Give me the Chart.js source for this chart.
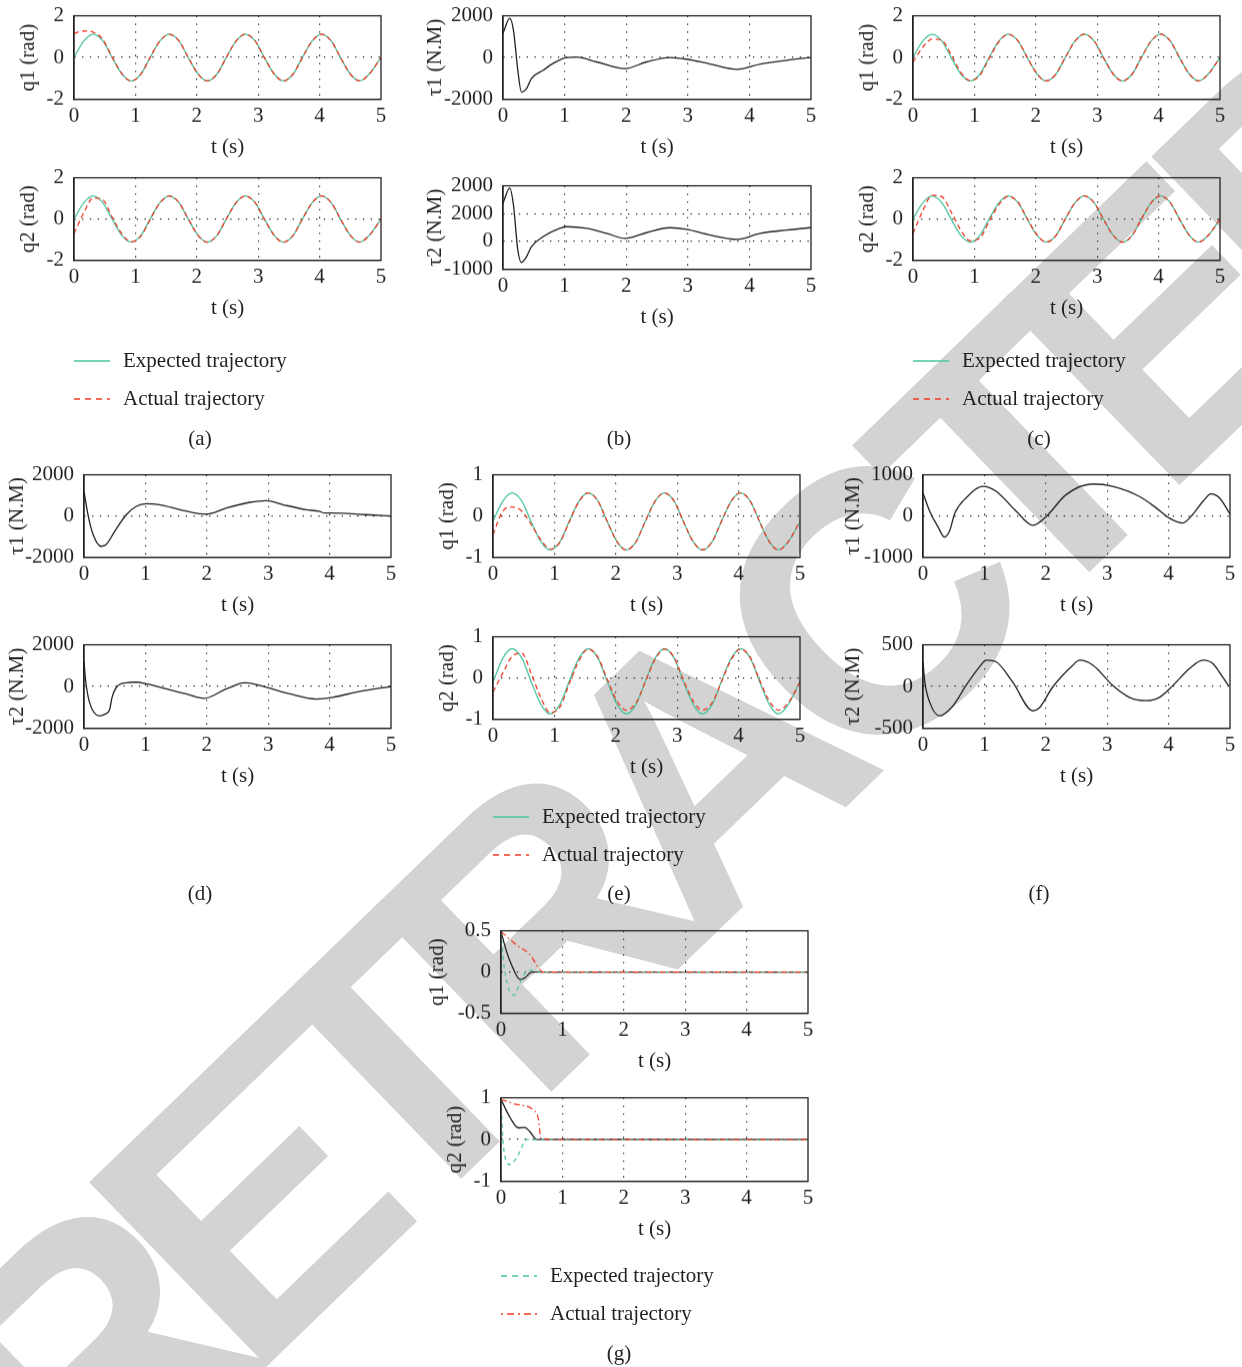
<!DOCTYPE html>
<html>
<head>
<meta charset="utf-8">
<script src="https://cdn.jsdelivr.net/npm/chart.js@4/dist/chart.umd.min.js"></script>
<style>
  body { margin: 0; width: 1242px; height: 1367px; position: relative; overflow: hidden; background: #fff;
         font-family: "Liberation Serif", serif; color: #231f20; }
  canvas { position: absolute; }
  .txt { position: absolute; font-size: 21px; line-height: 21px; white-space: nowrap; transform: translateY(-50%); }
  .cap { position: absolute; font-size: 21px; line-height: 21px; white-space: nowrap; transform: translate(-50%, -50%); }
  .sw { position: absolute; transform: translateY(-50%); }
</style>
</head>
<body>
<canvas id="mark" width="1242" height="1367" style="left:0;top:0"></canvas>
<div id="root"></div>
<script>
// ---- data ----
const xTicks = [0, 1, 2, 3, 4, 5]

const tWave = [0, 0.16, 0.31, 0.47, 0.62, 0.78, 0.93, 1.09, 1.24, 1.40, 1.55, 1.71, 1.86, 2.02, 2.17, 2.33,
  2.48, 2.64, 2.79, 2.95, 3.10, 3.26, 3.41, 3.57, 3.72, 3.88, 4.03, 4.19, 4.34, 4.50, 4.65, 4.81, 5.0]

// (a)
const aQ1Exp = [0, 0.79, 1.12, 0.79, 0, -0.79, -1.12, -0.79, 0, 0.79, 1.12, 0.79, 0, -0.79, -1.12, -0.79,
  0, 0.79, 1.12, 0.79, 0, -0.79, -1.12, -0.79, 0, 0.79, 1.12, 0.79, 0, -0.79, -1.12, -0.79, 0]
const aQ1Act = [1.15, 1.27, 1.22, 0.86, 0.03, -0.77, -1.12, -0.8, 0.01, 0.79, 1.11, 0.8, 0.01, -0.79, -1.12, -0.79,
  0, 0.79, 1.12, 0.79, 0, -0.79, -1.12, -0.79, 0, 0.79, 1.12, 0.79, 0, -0.79, -1.12, -0.79, 0]
const aQ2Exp = [0, 0.79, 1.12, 0.79, 0, -0.79, -1.12, -0.79, 0, 0.79, 1.12, 0.79, 0, -0.79, -1.12, -0.79,
  0, 0.79, 1.12, 0.79, 0, -0.79, -1.12, -0.79, 0, 0.79, 1.12, 0.79, 0, -0.79, -1.12, -0.79, 0]
const aQ2Act = [-0.7, 0.3, 1.02, 0.93, 0.1, -0.72, -1.1, -0.83, -0.03, 0.78, 1.12, 0.8, 0.01, -0.79, -1.12, -0.79,
  0, 0.79, 1.12, 0.79, 0, -0.79, -1.12, -0.79, 0, 0.79, 1.12, 0.79, 0, -0.79, -1.12, -0.79, 0]

// (b)
const bT1t = [0, 0.11, 0.17, 0.24, 0.3, 0.38, 0.46, 0.65, 0.81, 1.03, 1.19, 1.52, 1.98, 2.33, 2.71, 2.98, 3.36, 3.8, 4.18, 4.61, 5.0]
const bT1v = [1160, 1880, 1300, -600, -1660, -1500, -1015, -613, -290, 0, 20, -212, -531, -212, 0, -80, -310, -565, -310, -130, 0]
const bT2t = [0, 0.11, 0.17, 0.24, 0.3, 0.38, 0.46, 0.65, 0.92, 1.03, 1.36, 1.68, 1.98, 2.33, 2.71, 2.98, 3.36, 3.8, 4.18, 4.61, 5.0]
const bT2v = [1375, 1917, 1300, -300, -757, -555, -194, 167, 469, 531, 470, 290, 108, 314, 495, 435, 230, 75, 290, 410, 495]

// (c)
const cQ1Exp = aQ1Exp
const cQ1Act = [-0.22, 0.5, 0.88, 0.82, 0.15, -0.72, -1.1, -0.85, -0.05, 0.76, 1.11, 0.8, 0.01, -0.79, -1.12, -0.79,
  0, 0.79, 1.12, 0.79, 0, -0.79, -1.12, -0.79, 0, 0.79, 1.12, 0.79, 0, -0.79, -1.12, -0.79, 0]
const cQ2Exp = aQ2Exp
const cQ2Act = [-0.7, 0.4, 1.15, 1.08, 0.35, -0.55, -1.05, -0.92, -0.12, 0.7, 1.1, 0.82, 0.02, -0.77, -1.12, -0.8,
  0, 0.79, 1.12, 0.79, 0, -0.79, -1.12, -0.79, 0, 0.79, 1.12, 0.79, 0, -0.79, -1.12, -0.79, 0]

// (d)
const dT1t = [0, 0.065, 0.15, 0.28, 0.36, 0.5, 0.69, 0.85, 1.01, 1.23, 1.56, 1.88, 2.02, 2.32, 2.7, 2.97, 3.24, 3.62, 3.83, 3.92, 4.05, 4.59, 5.0]
const dT1v = [1200, 65, -906, -1470, -1390, -745, 65, 470, 600, 550, 307, 113, 100, 390, 663, 745, 550, 307, 226, 145, 145, 65, 0]
const dT2t = [0, 0.03, 0.09, 0.25, 0.34, 0.42, 0.45, 0.53, 0.69, 0.85, 1.01, 1.34, 1.66, 1.96, 2.32, 2.62, 2.97, 3.35, 3.78, 4.05, 4.48, 5.0]
const dT2v = [1180, 210, -760, -1408, -1327, -1084, -600, -32, 178, 210, 130, -113, -356, -566, -113, 178, -32, -356, -600, -518, -243, 0]

// (e)
const eQ1Exp = [-0.12, 0.36, 0.56, 0.36, -0.13, -0.62, -0.82, -0.62, -0.13, 0.36, 0.56, 0.36, -0.13, -0.62, -0.82, -0.62,
  -0.13, 0.36, 0.56, 0.36, -0.13, -0.62, -0.82, -0.62, -0.13, 0.36, 0.56, 0.36, -0.13, -0.62, -0.82, -0.62, -0.15]
const eQ1Act = [-0.45, 0.12, 0.22, 0.12, -0.2, -0.58, -0.8, -0.64, -0.15, 0.35, 0.56, 0.36, -0.13, -0.62, -0.82, -0.62,
  -0.13, 0.36, 0.56, 0.36, -0.13, -0.62, -0.82, -0.62, -0.13, 0.36, 0.56, 0.36, -0.13, -0.62, -0.82, -0.62, -0.12]
const eQ2Exp = [-0.1, 0.48, 0.71, 0.48, -0.08, -0.64, -0.87, -0.64, -0.08, 0.48, 0.71, 0.48, -0.08, -0.64, -0.87, -0.64,
  -0.08, 0.48, 0.71, 0.48, -0.08, -0.64, -0.87, -0.64, -0.08, 0.48, 0.71, 0.48, -0.08, -0.64, -0.87, -0.64, -0.08]
const eQ2Act = [-0.34, 0.12, 0.52, 0.6, 0.12, -0.48, -0.84, -0.7, -0.15, 0.42, 0.7, 0.5, -0.03, -0.56, -0.78, -0.6,
  -0.1, 0.45, 0.7, 0.5, -0.04, -0.56, -0.78, -0.6, -0.1, 0.45, 0.7, 0.5, -0.04, -0.56, -0.78, -0.6, -0.1]

// (f)
const fT1t = [0, 0.11, 0.24, 0.35, 0.43, 0.52, 0.7, 0.98, 1.19, 1.52, 1.79, 2.01, 2.33, 2.77, 3.09, 3.52, 3.8, 4.01, 4.23, 4.39, 4.56, 4.69, 4.83, 5.0]
const fT1v = [560, 113, -251, -510, -372, 73, 437, 720, 600, 113, -227, -8, 518, 777, 720, 478, 194, -49, -170, 32, 356, 534, 437, 50]
const fT2t = [0, 0.03, 0.11, 0.27, 0.49, 0.7, 0.92, 1.03, 1.19, 1.46, 1.79, 1.9, 2.11, 2.44, 2.55, 2.77, 3.09, 3.36, 3.63, 3.85, 4.07, 4.34, 4.56, 4.72, 4.88, 4.98]
const fT2v = [296, 53, -190, -352, -231, 12, 235, 316, 296, 53, -291, -251, -8, 255, 316, 255, 12, -130, -170, -130, 12, 215, 316, 275, 113, 4]

// (g)
const gQ1ErrT = [0, 0.09, 0.17, 0.31, 0.39, 0.5, 0.7, 5]
const gQ1ErrV = [0.49, 0.25, 0.09, -0.09, -0.07, 0, 0, 0]
const gQ1ExpT = [0, 0.04, 0.12, 0.21, 0.31, 0.42, 0.5, 0.7, 5]
const gQ1ExpV = [0.49, 0.13, -0.19, -0.28, -0.13, 0.01, 0.02, 0, 0]
const gQ1ActT = [0, 0.25, 0.47, 0.63, 0.69, 1, 5]
const gQ1ActV = [0.49, 0.33, 0.21, 0.03, 0, 0, 0]
const gQ2ErrT = [0, 0.15, 0.28, 0.39, 0.47, 0.58, 1, 5]
const gQ2ErrV = [0.96, 0.52, 0.28, 0.29, 0.19, 0, 0, 0]
const gQ2ExpT = [0, 0.03, 0.07, 0.15, 0.28, 0.42, 1, 5]
const gQ2ExpV = [0.96, 0.03, -0.45, -0.6, -0.37, 0, 0, 0]
const gQ2ActT = [0, 0.25, 0.55, 0.61, 0.65, 1, 5]
const gQ2ActV = [0.96, 0.84, 0.68, 0.48, 0.03, 0, 0]

// y tick values / labels
const yT2 = [-2, 0, 2], yL2 = ['-2', '0', '2']
const yT1 = [-1, 0, 1], yL1 = ['-1', '0', '1']
const yTh = [-0.5, 0, 0.5], yLh = ['-0.5', '0', '0.5']
const yT2k = [-2000, 0, 2000], yL2k = ['-2000', '0', '2000']
const yT1k = [-1000, 0, 1000], yL1k = ['-1000', '0', '1000']
const yT5h = [-500, 0, 500], yL5h = ['-500', '0', '500']
const yTb2 = [-1000, 0, 1000, 2000], yLb2 = ['-1000', '0', '2000', '2000']

// ---- styles ----
const GREEN = '#4cc4a0', RED = '#f03a22', INK = '#231f20'
const DASH = [5, 3.5], DASHDOT = [6, 3, 1.5, 3], GDASH = [4, 4]
const FONT = { family: '"Liberation Serif", serif', size: 21 }
const L = 84, T = 12, R = 16, B = 62

const frame = {
  id: 'frame',
  afterDatasetsDraw(ch) {
    const a = ch.chartArea, c = ch.ctx
    c.save()
    c.strokeStyle = INK
    c.lineWidth = 1.3
    c.strokeRect(a.left, a.top, a.right - a.left, a.bottom - a.top)
    c.restore()
  }
}

function inner(ctx, lo, hi) {
  const v = ctx.tick && ctx.tick.value
  return (v === lo || v === hi) ? 'rgba(0,0,0,0)' : INK
}

function panel(p) {
  const W = L + p.w + R, H = T + p.h + B
  const cv = document.createElement('canvas')
  cv.width = W
  cv.height = H
  document.getElementById('root').appendChild(cv)

  const ch = new Chart(cv.getContext('2d'), {
    type: 'line',
    data: {
      // later series sit on top, as in the figure
      datasets: p.series.map((s, i) => ({
        data: s.t.map((t, k) => ({ x: t, y: s.v[k] })),
        borderColor: s.color,
        borderWidth: 1.3,
        borderDash: s.dash || [],
        pointRadius: 0,
        cubicInterpolationMode: 'monotone',
        fill: false,
        order: p.series.length - i
      }))
    },
    options: {
      responsive: false,
      maintainAspectRatio: false,
      animation: false,
      devicePixelRatio: 1,
      layout: { autoPadding: false, padding: { top: T, right: R, left: 0, bottom: 0 } },
      plugins: { legend: { display: false }, tooltip: { enabled: false } },
      scales: {
        x: {
          type: 'linear', min: 0, max: 5,
          afterBuildTicks: s => { s.ticks = xTicks.map(v => ({ value: v })) },
          afterFit: s => { s.height = B },
          ticks: { font: FONT, color: INK, padding: 4, maxRotation: 0, autoSkip: false, callback: v => String(v) },
          grid: { drawTicks: false, lineWidth: 1.2, color: c => inner(c, 0, 5) },
          border: { color: INK, width: 1.3, dash: [1.3, 6.5] },
          title: { display: true, text: 't (s)', font: FONT, color: INK, padding: { top: 0, bottom: 2 } }
        },
        y: {
          type: 'linear', min: p.yT[0], max: p.yT[p.yT.length - 1],
          afterBuildTicks: s => { s.ticks = p.yT.map(v => ({ value: v })) },
          afterFit: s => { s.width = L },
          ticks: { font: FONT, color: INK, padding: 10, autoSkip: false, callback: (v, i) => p.yL[i] },
          grid: { drawTicks: false, lineWidth: 1.2, color: c => inner(c, p.yT[0], p.yT[p.yT.length - 1]) },
          border: { color: INK, width: 1.3, dash: [1.3, 6.5] },
          title: { display: true, text: p.title, font: FONT, color: INK, padding: { top: 72 - p.off, bottom: 0 } }
        }
      }
    },
    plugins: [frame]
  })

  // make the plot box exactly the size measured on the figure, then place it
  for (let k = 0; k < 3; k++) {
    const a = ch.chartArea
    const dw = p.w - (a.right - a.left), dh = p.h - (a.bottom - a.top)
    if (Math.abs(dw) < 0.5 && Math.abs(dh) < 0.5) break
    ch.resize(ch.width + dw, ch.height + dh)
  }
  const a = ch.chartArea
  cv.style.left = (p.x - a.left) + 'px'
  cv.style.top = (p.y - a.top) + 'px'
}

const panels = [
  { x: 74, y: 16, w: 307, h: 83, yT: yT2, yL: yL2, title: 'q1 (rad)', off: 46,
    series: [{ t: tWave, v: aQ1Exp, color: GREEN }, { t: tWave, v: aQ1Act, color: RED, dash: DASH }] },
  { x: 74, y: 178, w: 307, h: 82, yT: yT2, yL: yL2, title: 'q2 (rad)', off: 46,
    series: [{ t: tWave, v: aQ2Exp, color: GREEN }, { t: tWave, v: aQ2Act, color: RED, dash: DASH }] },
  { x: 503, y: 16, w: 308, h: 83, yT: yT2k, yL: yL2k, title: 'τ1 (N.M)', off: 68,
    series: [{ t: bT1t, v: bT1v, color: INK }] },
  { x: 503, y: 186, w: 308, h: 83, yT: yTb2, yL: yLb2, title: 'τ2 (N.M)', off: 68,
    series: [{ t: bT2t, v: bT2v, color: INK }] },
  { x: 913, y: 16, w: 307, h: 83, yT: yT2, yL: yL2, title: 'q1 (rad)', off: 46,
    series: [{ t: tWave, v: cQ1Exp, color: GREEN }, { t: tWave, v: cQ1Act, color: RED, dash: DASH }] },
  { x: 913, y: 178, w: 307, h: 82, yT: yT2, yL: yL2, title: 'q2 (rad)', off: 46,
    series: [{ t: tWave, v: cQ2Exp, color: GREEN }, { t: tWave, v: cQ2Act, color: RED, dash: DASH }] },
  { x: 84, y: 475, w: 307, h: 82, yT: yT2k, yL: yL2k, title: 'τ1 (N.M)', off: 67,
    series: [{ t: dT1t, v: dT1v, color: INK }] },
  { x: 84, y: 645, w: 307, h: 83, yT: yT2k, yL: yL2k, title: 'τ2 (N.M)', off: 67,
    series: [{ t: dT2t, v: dT2v, color: INK }] },
  { x: 493, y: 475, w: 307, h: 82, yT: yT1, yL: yL1, title: 'q1 (rad)', off: 46,
    series: [{ t: tWave, v: eQ1Exp, color: GREEN }, { t: tWave, v: eQ1Act, color: RED, dash: DASH }] },
  { x: 493, y: 637, w: 307, h: 82, yT: yT1, yL: yL1, title: 'q2 (rad)', off: 46,
    series: [{ t: tWave, v: eQ2Exp, color: GREEN }, { t: tWave, v: eQ2Act, color: RED, dash: DASH }] },
  { x: 923, y: 475, w: 307, h: 82, yT: yT1k, yL: yL1k, title: 'τ1 (N.M)', off: 70,
    series: [{ t: fT1t, v: fT1v, color: INK }] },
  { x: 923, y: 645, w: 307, h: 83, yT: yT5h, yL: yL5h, title: 'τ2 (N.M)', off: 70,
    series: [{ t: fT2t, v: fT2v, color: INK }] },
  { x: 501, y: 931, w: 307, h: 82, yT: yTh, yL: yLh, title: 'q1 (rad)', off: 64,
    series: [{ t: gQ1ErrT, v: gQ1ErrV, color: INK }, { t: gQ1ExpT, v: gQ1ExpV, color: GREEN, dash: GDASH },
             { t: gQ1ActT, v: gQ1ActV, color: RED, dash: DASHDOT }] },
  { x: 501, y: 1098, w: 307, h: 83, yT: yT1, yL: yL1, title: 'q2 (rad)', off: 46,
    series: [{ t: gQ2ErrT, v: gQ2ErrV, color: INK }, { t: gQ2ExpT, v: gQ2ExpV, color: GREEN, dash: GDASH },
             { t: gQ2ActT, v: gQ2ActV, color: RED, dash: DASHDOT }] }
]

// watermark behind everything, letters set one by one with tight tracking
function watermark() {
  const mk = document.getElementById('mark').getContext('2d')
  const size = 372, track = -40, word = 'RETRACTED'
  mk.fillStyle = '#d3d3d3'
  mk.font = 'bold ' + size + 'px "Liberation Sans", sans-serif'
  const widths = [...word].map(c => mk.measureText(c).width)
  const total = widths.reduce((s, w) => s + w, 0) + track * (word.length - 1)
  mk.translate(702, 761)
  mk.rotate(-44 * Math.PI / 180)
  mk.textAlign = 'left'
  mk.textBaseline = 'alphabetic'
  let x = -total / 2
  ;[...word].forEach((c, i) => {
    mk.fillText(c, x, size * 0.358)
    x += widths[i] + track
  })
}

function swatch(x, y, color, dash) {
  const ns = 'http://www.w3.org/2000/svg'
  const svg = document.createElementNS(ns, 'svg')
  svg.setAttribute('width', 36)
  svg.setAttribute('height', 4)
  svg.setAttribute('class', 'sw')
  svg.style.left = x + 'px'
  svg.style.top = y + 'px'
  const ln = document.createElementNS(ns, 'line')
  ln.setAttribute('x1', 0); ln.setAttribute('y1', 2)
  ln.setAttribute('x2', 36); ln.setAttribute('y2', 2)
  ln.setAttribute('stroke', color)
  ln.setAttribute('stroke-width', 1.3)
  if (dash) ln.setAttribute('stroke-dasharray', dash.join(' '))
  svg.appendChild(ln)
  document.body.appendChild(svg)
}

function text(cls, x, y, s) {
  const d = document.createElement('div')
  d.className = cls
  d.style.left = x + 'px'
  d.style.top = y + 'px'
  d.textContent = s
  document.body.appendChild(d)
}

function legend(x, y, expDash, actDash) {
  swatch(x, y + 1, GREEN, expDash)
  text('txt', x + 49, y, 'Expected trajectory')
  swatch(x, y + 39, RED, actDash)
  text('txt', x + 49, y + 38, 'Actual trajectory')
}

watermark()
panels.forEach(panel)

legend(74, 360, null, [6, 5])
legend(913, 360, null, [6, 5])
legend(493, 816, null, [6, 5])
legend(501, 1275, [6, 5], [2, 4, 7, 4])

text('cap', 200, 438, '(a)')
text('cap', 619, 438, '(b)')
text('cap', 1039, 438, '(c)')
text('cap', 200, 893, '(d)')
text('cap', 619, 893, '(e)')
text('cap', 1039, 893, '(f)')
text('cap', 619, 1353, '(g)')
</script>
</body>
</html>
